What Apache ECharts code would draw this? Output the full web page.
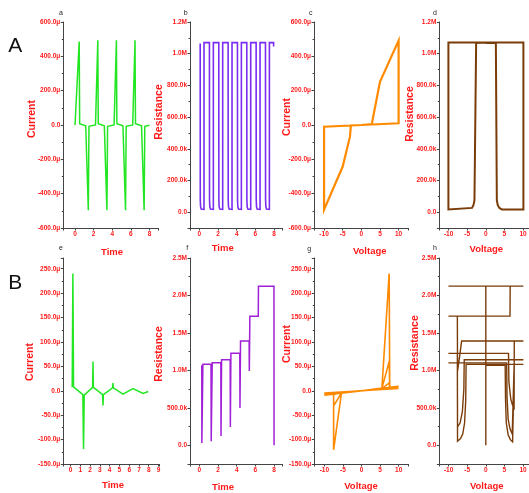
<!DOCTYPE html>
<html><head><meta charset="utf-8">
<script src="https://cdn.jsdelivr.net/npm/echarts@6/dist/echarts.min.js"></script>
<style>html,body{margin:0;padding:0;background:#fff}#c{width:529px;height:493px}</style>
</head><body><div id="c"></div>
<script>
// ---------- data ----------
// a: Current (μA) vs Time
const aTime = [0,0.2,0.45,0.5,1.15,1.43,1.5,2.2,2.45,2.5,3.15,3.43,3.5,4.2,4.45,4.5,5.15,5.43,5.5,6.2,6.45,6.5,7.15,7.43,7.5,8.0];
const aCurrent = [0,0,486,8,-4,-497,-8,0,493,8,-4,-497,-8,0,493,8,-4,-497,-8,0,493,8,-4,-497,-8,-1];
// b: Resistance (Ω) vs Time
const bTime = [0.09,0.1,0.13,0.2,0.5,0.5, 1.08,1.09,1.12,1.19,1.5,1.5, 2.08,2.09,2.12,2.19,2.5,2.5, 3.08,3.09,3.12,3.19,3.5,3.5,
  4.08,4.09,4.12,4.19,4.5,4.5, 5.08,5.09,5.12,5.19,5.5,5.5, 6.08,6.09,6.12,6.19,6.5,6.5, 7.08,7.09,7.12,7.19,7.5,7.5, 7.95,7.95];
const bResistance = [1065000,80000,35000,20000,18000,1070000, 1070000,80000,35000,20000,18000,1070000,
  1070000,80000,35000,20000,18000,1070000, 1070000,80000,35000,20000,18000,1070000,
  1070000,80000,35000,20000,18000,1070000, 1070000,80000,35000,20000,18000,1070000,
  1070000,80000,35000,20000,18000,1070000, 1070000,80000,35000,20000,18000,1070000, 1070000,1045000];
// c: Current (μA) vs Voltage
const cVoltage = [0,2.8,5,10,10,0,-2.8,-3.05,-5,-10,-10,0];
const cCurrent = [0,5,251,492,10,0,-3,-68,-242,-493,-10,0];
// d: Resistance (Ω) vs Voltage
const dVoltage = [0,2.7,2.96,3.2,3.6,4.3,10.1,10.1,0,-2.6,-3.05,-3.3,-3.7,-4.2,-10.05,-10.05,0];
const dResistance = [1068000,1068000,76000,45000,27000,17000,17000,1070000,1070000,1068000,76000,45000,27000,17000,17000,1070000,1070000];
// e: Current (μA) vs Time
const eTime = [0.17,0.24,0.31,1.26,1.33,1.4,2.26,2.3,2.34,3.28,3.32,3.36,4.3,4.34,4.38,5.37,6.39,7.42,7.95];
const eCurrent = [7,240,8,-8,-119,-9,7,60,7,-8,-30,-8,6,16,6,-7,4.5,-5.5,-1.5];
// f: Resistance (Ω) vs Time
const fTime = [0.26,0.27,0.38,1.25,1.27,1.38,2.3,2.32,2.38,3.3,3.32,3.38,4.33,4.35,4.41,5.33,5.35,5.41,6.31,6.33,7.99,8.0];
const fResistance = [1067000,31000,1080000,1080000,53000,1102000,1102000,124000,1142000,1142000,244000,1227000,
  1227000,498000,1391000,1391000,991000,1724000,1724000,2124000,2124000,0];
// g: Current (μA) vs Voltage
const gVoltage = [0,5.5,7.45,7.6,10,-5.4,-7.5,-7.5,-10,5.5,7.45,7.6,10,-5.4,-7.5,-7.5,-10,5.5,7.45,7.6,10,-5.4,-7.5,-7.5,-10,6.5,10,-10,0];
const gCurrent = [0,5.5,240,7,9,-5,-121,-7,-9,5,60,6.6,8.6,-4.7,-31,-6.2,-8.2,4.6,16,5.5,7.3,-3.9,-7.7,-4.4,-5.8,3.8,4.7,-4.7,0];
// h: Resistance (Ω) vs Voltage
const hVoltage = [0,5.2,5.3,5.5,6.0,6.6,7.2,7.6,7.65,10.1,-5.3,-5.4,-5.7,-6.2,-6.8,-7.3,-7.6,-7.65,-10.05,5.6,5.7,6.0,6.5,7.1,7.6,7.65,10.1,
  -5.8,-5.9,-6.3,-6.9,-7.6,-7.65,-10.05,6.1,6.2,6.7,7.2,7.6,7.65,10.1,-6.5,-7.0,-7.6,-7.65,-10.05,6.5,6.55,10.1,-10.05,0,0];
const hResistance = [1067000,1067000,600000,300000,140000,75000,45000,35000,1080000,1080000,1080000,600000,300000,150000,90000,65000,55000,1100000,1100000,1100000,650000,350000,220000,150000,125000,1142000,1142000,
  1142000,750000,450000,300000,244000,1227000,1227000,1227000,850000,620000,530000,498000,1391000,1391000,1391000,1200000,991000,1724000,1724000,1724000,2124000,2124000,2124000,2124000,0];

// tick labels
const timeTicksEven = [0,2,4,6,8];
const timeTicksAll = [0,1,2,3,4,5,6,7,8,9];
const voltTicks = [-10,-5,0,5,10];
const currentTicksA = [-600,-400,-200,0,200,400,600];
const currentTicksB = [-150,-100,-50,0,50,100,150,200,250];
const resTicksA = [0,200000,400000,600000,800000,1000000,1200000];
const resTicksB = [0,500000,1000000,1500000,2000000,2500000];

// ---------- chart ----------
const FONT = '"Liberation Sans", Arial, sans-serif';
const RED = '#ff1a1a';
const AX = '#444';
const fmtCur = v => v === 0 ? '0.0' : v.toFixed(1) + 'μ';
const fmtRes = v => v === 0 ? '0.0' : (Math.abs(v) >= 1e6 ? (v/1e6).toFixed(1) + 'M' : (v/1e3).toFixed(1) + 'k');
const fmtNum = v => String(Math.round(v));
const inList = (list, v) => list.some(t => Math.abs(t - v) <= 1e-6 * Math.max(1, Math.abs(t)));
const zip = (x, y) => x.map((v, i) => [v, y[i]]);

const panels = [
  {g:[63.3,22,94.7,206], x:[-1.26,8.92,5,timeTicksEven], y:[-600,600,6,currentTicksA,fmtCur], d:zip(aTime,aCurrent), c:'#22e622', w:1.5},
  {g:[190,22,92,206], x:[-1.0,8.85,5,timeTicksEven], y:[-100000,1200000,6,resTicksA,fmtRes], d:zip(bTime,bResistance), c:'#7a2cf2', w:1.6},
  {g:[314,22,94.3,206], x:[-12.7,12.6,5,voltTicks], y:[-600,600,6,currentTicksA,fmtCur], d:zip(cVoltage,cCurrent), c:'#ff8a00', w:2.2},
  {g:[439.3,22,93.4,206], x:[-12.5,12.6,5,voltTicks], y:[-100000,1200000,6,resTicksA,fmtRes], d:zip(dVoltage,dResistance), c:'#7a3c08', w:2},
  {g:[63.3,258,96,206], x:[-0.74,9.08,9,timeTicksAll], y:[-150,272,8,currentTicksB,fmtCur], d:zip(eTime,eCurrent), c:'#22e622', w:1.5},
  {g:[190,258,92,206], x:[-1.0,8.85,5,timeTicksEven], y:[-250000,2500000,6,resTicksB,fmtRes], d:zip(fTime,fResistance), c:'#a020d8', w:1.5},
  {g:[314.3,258,94,206], x:[-12.7,12.6,5,voltTicks], y:[-150,272,8,currentTicksB,fmtCur], d:zip(gVoltage,gCurrent), c:'#ff8a00', w:1.6},
  {g:[439.3,258,93.4,206], x:[-12.5,12.6,5,voltTicks], y:[-250000,2500000,6,resTicksB,fmtRes], d:zip(hVoltage,hResistance), c:'#7a3c08', w:1.4}
];

const grid = [], xAxis = [], yAxis = [], series = [];
panels.forEach((p, i) => {
  grid.push({left:p.g[0], top:p.g[1], width:p.g[2], height:p.g[3], containLabel:false, outerBoundsMode:'none'});
  const xt = p.x[3], yt = p.y[3], yf = p.y[4];
  xAxis.push({type:'value', gridIndex:i, min:p.x[0], max:p.x[1], splitNumber:p.x[2], scale:true,
    splitLine:{show:false},
    axisLine:{onZero:false, lineStyle:{color:AX, width:1}},
    axisTick:{show:true, length:2.5, lineStyle:{color:AX}},
    axisLabel:{color:RED, fontSize:6.5, fontWeight:'bold', fontFamily:FONT, margin:2.5,
      showMinLabel:true, showMaxLabel:true, formatter: v => inList(xt, v) ? fmtNum(v) : ''}
  });
  yAxis.push({type:'value', gridIndex:i, min:p.y[0], max:p.y[1], splitNumber:p.y[2], scale:true,
    splitLine:{show:false},
    axisLine:{onZero:false, lineStyle:{color:AX, width:1}},
    axisTick:{show:true, length:2.5, lineStyle:{color:AX}},
    minorTick:{show:true, splitNumber:2, length:1.5, lineStyle:{color:AX}},
    axisLabel:{color:RED, fontSize:6.5, fontWeight:'bold', fontFamily:FONT, margin:3,
      formatter: v => inList(yt, v) ? yf(v) : ''}
  });
  series.push({type:'line', xAxisIndex:i, yAxisIndex:i, data:p.d, showSymbol:false, symbol:'none',
    silent:true, animation:false, lineStyle:{color:p.c, width:p.w, join:'miter'}, itemStyle:{color:p.c}});
});

const titles = [
  ['Current',32,119,1],['Resistance',159.3,112,1],['Current',286.7,117,1],['Resistance',410,114,1],
  ['Current',30,362,1],['Resistance',159.3,354,1],['Current',286.7,344,1],['Resistance',415,343,1],
  ['Time',112,252,0],['Time',222.7,248.3,0],['Voltage',369.7,251,0],['Voltage',486.3,249,0],
  ['Time',113,485.7,0],['Time',223,487.7,0],['Voltage',361,486.7,0],['Voltage',486.7,486.7,0]
];
const letters = [['a',61,13.3],['b',185.7,12.7],['c',310.7,13.3],['d',435,12.7],['e',61,248.3],['f',187.3,247.7],['g',309.3,249],['h',435,247.7]];
const graphic = [];
titles.forEach(t => graphic.push({type:'text', x:t[1], y:t[2], rotation: t[3] ? Math.PI/2 : 0, silent:true,
  style:{text:t[0], fill:RED, font:'bold ' + (t[3] ? 10.5 : 9.5) + 'px ' + FONT, align:'center', verticalAlign:'middle'}}));
letters.forEach(l => graphic.push({type:'text', x:l[1], y:l[2], silent:true,
  style:{text:l[0], fill:'#222', font:'7px ' + FONT, align:'center', verticalAlign:'middle'}}));
graphic.push({type:'text', x:15.3, y:46, silent:true, style:{text:'A', fill:'#111', font:'21px ' + FONT, align:'center', verticalAlign:'middle'}});
graphic.push({type:'text', x:15.3, y:283, silent:true, style:{text:'B', fill:'#111', font:'21px ' + FONT, align:'center', verticalAlign:'middle'}});

const chart = echarts.init(document.getElementById('c'), null, {renderer:'canvas'});
chart.setOption({animation:false, backgroundColor:'#fff', grid, xAxis, yAxis, series, graphic});
</script></body></html>
